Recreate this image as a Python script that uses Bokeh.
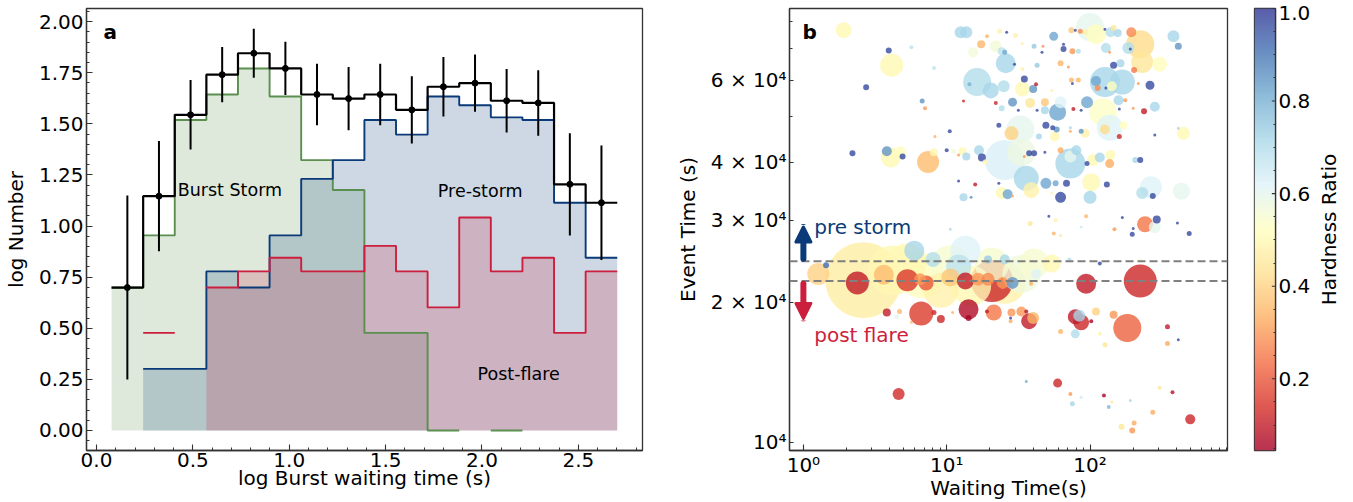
import math
import numpy as np
from bokeh.plotting import figure
from bokeh.layouts import row
from bokeh.models import (Range1d, FixedTicker, Span, Label, Arrow, NormalHead,
                          LinearColorMapper, ColumnDataSource, PrintfTickFormatter)
from bokeh.embed import file_html
from bokeh.resources import INLINE

FONT = "DejaVu Sans"

# ---------------- Panel a: histogram data ----------------
bin_edges = [0.078, 0.242, 0.406, 0.570, 0.734, 0.898, 1.062, 1.226, 1.390,
             1.554, 1.718, 1.882, 2.046, 2.210, 2.374, 2.538, 2.702]
total_counts = [5, 14, 35, 55, 70, 59, 44, 42, 44, 37, 48, 50, 41, 40, 16, 13]
burst_storm_counts = [5, 9, 33, 44, 59, 43, 21, 15, 3, 3, 1, 0, 1, 0, 0, 0]
pre_storm_counts = [0, 2, 2, 6, 5, 9, 17, 21, 33, 28, 43, 39, 34, 33, 13, 7]
post_flare_counts = [0, 3, 0, 5, 6, 7, 6, 6, 8, 6, 4, 11, 6, 7, 3, 6]
total_err = [0.45, 0.27, 0.17, 0.135, 0.12, 0.13, 0.15, 0.155, 0.15, 0.165,
             0.145, 0.14, 0.155, 0.16, 0.25, 0.28]

x_ticks_a = [0.0, 0.5, 1.0, 1.5, 2.0, 2.5]
y_ticks_a = [0.0, 0.25, 0.5, 0.75, 1.0, 1.25, 1.5, 1.75, 2.0]

# ---------------- Panel b: scatter data ----------------
wait_s = [1.91, 3.94, 4.13, 2.74, 5.67, 8.15, 6.74, 7.06, 8.28, 10.5,
          2.20, 3.82, 4.07, 4.76, 4.92, 7.41, 8.15, 10.0, 11.2, 12.1,
          12.9, 13.7, 12.1, 15.8, 13.1, 14.8, 12.5, 13.7, 17.4, 15.3,
          16.3, 14.4, 13.1, 17.6, 16.8, 19.1, 23.4, 26.2, 30.2, 22.0,
          24.2, 25.4, 33.7, 40.7, 46.9, 46.2, 55.8, 65.3, 65.3, 75.3,
          82.8, 74.1, 78.9, 85.5, 92.4, 100, 110, 127, 146, 139,
          156, 194, 224, 185, 191, 382, 413, 129, 137, 146,
          163, 231, 306, 203, 25.8, 29.7, 62.3, 70.6, 42.7, 33.7,
          20.3, 25.0, 34.8, 33.7, 42.0, 40.1, 54.1, 74.1, 75.3, 82.8,
          127, 168, 110, 113, 129, 142, 262, 217, 22.0, 28.8,
          24.2, 31.6, 38.2, 48.4, 48.4, 42.7, 59.4, 62.3, 76.5, 86.7,
          95.3, 123, 158, 160, 176, 200, 238, 283, 137, 127,
          171, 160, 283, 448, 413, 32.6, 28.3, 23.1, 44.0, 49.2,
          54.9, 58.5, 56.7, 72.9, 72.9, 86.7, 92.4, 25.4, 33.2, 18.5,
          37.6, 40.7, 34.8, 48.4, 72.9, 62.3, 72.9, 80.2, 95.3, 105,
          117, 139, 137, 207, 224, 23.1, 24.2, 26.6, 28.8, 35.9,
          38.8, 49.2, 54.1, 57.5, 68.5, 62.3, 102, 131, 100, 266,
          231, 274, 434, 51.6, 57.5, 93.9, 38.2, 55.8, 62.3, 86.7,
          148, 168, 200, 197, 242, 283, 292, 407, 492, 3.21,
          10.6, 2.62, 4.20, 6.64, 10.6, 14.8, 20.7, 25.4, 33.2, 54.1,
          71.8, 117, 224, 2.38, 3.64, 5.32, 7.18, 6.53, 10.6, 13.5,
          16.6, 19.4, 20.7, 24.6, 28.8, 1.27, 1.44, 5.94, 8.02, 19.4,
          12.1, 25.4, 38.8, 42.0, 93.9, 224, 14.2, 14.2, 19.1, 21.3,
          28.3, 27.9, 27.9, 33.2, 35.9, 40.1, 37.6, 78.9, 86.7, 84.1,
          102, 110, 146, 182, 62.3, 78.9, 117, 127, 347, 413,
          347, 35.9, 59.4, 72.9, 75.3, 125, 135, 191, 306, 376,
          274, 166, 203, 197, 500, 3.82, 4.69, 4.47, 5.67, 6.64,
          8.15, 9.10, 11.0, 4.62, 142, 86.7, 5.24, 9.10, 40.7, 13.5]
event_s = [76800, 69500, 64600, 57900, 70600, 63700, 54100, 52200, 45400, 46600,
           41800, 42200, 40900, 42000, 41100, 40000, 42000, 42400, 42200, 41400,
           42200, 41100, 36400, 35800, 33600, 33600, 76000, 76000, 71600, 68900,
           59400, 58800, 54100, 40900, 42400, 74500, 76400, 76000, 74800, 70900,
           69200, 68900, 71900, 70900, 70900, 68900, 74500, 71600, 70000, 69200,
           69200, 76800, 76800, 76400, 76000, 78000, 75300, 77200, 77600, 76000,
           75700, 76000, 71600, 70300, 70000, 74500, 70900, 70300, 68900, 64600,
           65200, 65600, 64900, 63100, 65200, 64900, 65200, 64000, 64600, 63400,
           57000, 58200, 60300, 57400, 58800, 57400, 57000, 60000, 59000, 60000,
           59400, 59400, 59700, 57700, 57700, 58200, 58500, 59000, 53600, 53800,
           52200, 51700, 53600, 53800, 51700, 51700, 51200, 53800, 52000, 51700,
           53800, 51200, 54300, 52000, 54300, 52200, 51400, 52600, 47400, 47000,
           48000, 45400, 45700, 46100, 47300, 47000, 46100, 48000, 45400, 48000,
           47400, 47000, 45400, 47400, 46600, 46600, 46100, 40400, 42000, 40000,
           41800, 41800, 41100, 42000, 39700, 42400, 41100, 42400, 39700, 40400,
           40900, 41400, 39700, 40400, 40400, 36000, 34300, 34100, 33800, 36900,
           34800, 36000, 34300, 36000, 36000, 33600, 36200, 35800, 33600, 35300,
           34300, 33800, 34600, 30600, 30000, 30600, 29500, 28100, 27800, 29000,
           28700, 30400, 28800, 28000, 29400, 29000, 30100, 29600, 28100, 28700,
           28700, 22300, 23400, 22800, 24000, 21700, 24100, 22000, 23000, 24200,
           24700, 24200, 24600, 22000, 22900, 22300, 22000, 22400, 22600, 22200,
           22400, 22400, 22200, 22000, 22000, 23000, 24000, 25800, 24700, 24700,
           23800, 24700, 21900, 23000, 21900, 22200, 19300, 18500, 19100, 19000,
           19000, 18200, 18500, 19100, 19100, 18500, 18200, 18600, 18100, 18700,
           18200, 19100, 18800, 17600, 17300, 17100, 17100, 16200, 17700, 16600,
           16300, 13500, 13400, 12700, 12100, 12600, 11900, 12300, 13100, 12800,
           11600, 10800, 11000, 10600, 11200, 19000, 19100, 18600, 18100, 18900,
           19000, 18400, 19000, 12700, 12200, 12500, 24200, 21200, 24200, 25800]
size_px = [16, 6, 23, 6, 4, 4, 5, 4, 3, 4,
           6, 10, 20, 12, 6, 22, 8, 4, 5, 3,
           8, 8, 3, 4, 8, 3, 12, 12, 8, 10,
           28, 4, 3, 8, 10, 4, 5, 3, 5, 12,
           8, 5, 3, 5, 3, 3, 9, 3, 6, 6,
           5, 6, 3, 5, 6, 28, 20, 3, 6, 10,
           8, 10, 28, 12, 3, 12, 7, 10, 3, 7,
           8, 22, 15, 6, 20, 3, 6, 3, 5, 4,
           16, 12, 7, 15, 4, 8, 3, 5, 3, 5,
           30, 25, 10, 6, 3, 10, 9, 3, 4, 9,
           6, 3, 10, 8, 8, 3, 17, 12, 4, 3,
           12, 28, 10, 3, 4, 3, 6, 10, 26, 10,
           8, 5, 3, 13, 3, 28, 14, 5, 6, 7,
           5, 6, 10, 3, 3, 5, 9, 40, 28, 5,
           6, 6, 3, 3, 30, 6, 12, 10, 5, 12,
           10, 10, 9, 6, 6, 3, 12, 10, 3, 25,
           16, 11, 3, 6, 7, 11, 18, 6, 13, 22,
           12, 6, 17, 3, 4, 4, 5, 4, 3, 3,
           4, 3, 3, 5, 16, 12, 8, 3, 5, 3,
           3, 76, 50, 45, 40, 40, 34, 42, 38, 18,
           4, 4, 3, 23, 20, 22, 15, 12, 18, 17,
           13, 13, 42, 12, 12, 22, 6, 20, 15, 8,
           25, 10, 4, 10, 20, 33, 20, 6, 4, 16,
           8, 4, 3, 10, 4, 12, 16, 15, 16, 12,
           4, 8, 8, 28, 5, 9, 4, 5, 5, 3,
           5, 3, 9, 4, 5, 4, 4, 3, 4, 4,
           5, 6, 5, 6, 10, 8, 5, 5, 3, 24,
           5, 8, 3, 12, 3, 3, 40, 35, 30, 30]
hardness = [0.50, 0.97, 0.50, 0.97, 0.68, 0.68, 0.85, 0.30, 0.33, 0.97,
            0.97, 0.85, 0.50, 0.52, 0.97, 0.36, 0.50, 0.97, 0.56, 0.30,
            0.50, 0.72, 0.97, 0.10, 0.72, 0.85, 0.72, 0.72, 0.35, 0.56,
            0.70, 0.80, 0.12, 0.97, 0.72, 0.35, 0.48, 0.97, 0.48, 0.56,
            0.68, 0.82, 0.48, 0.75, 0.30, 0.97, 0.82, 0.97, 0.97, 0.30,
            0.70, 0.38, 0.97, 0.28, 0.48, 0.60, 0.52, 0.97, 0.45, 0.70,
            0.72, 0.28, 0.42, 0.70, 0.97, 0.72, 0.85, 0.70, 0.30, 0.97,
            0.72, 0.45, 0.52, 0.25, 0.72, 0.97, 0.35, 0.30, 0.75, 0.48,
            0.72, 0.70, 0.97, 0.50, 0.10, 0.85, 0.48, 0.35, 0.97, 0.35,
            0.72, 0.72, 0.82, 0.28, 0.97, 0.52, 0.97, 0.30, 0.12, 0.85,
            0.70, 0.97, 0.45, 0.38, 0.72, 0.97, 0.82, 0.62, 0.10, 0.97,
            0.82, 0.53, 0.72, 0.97, 0.30, 0.30, 0.10, 0.72, 0.62, 0.42,
            0.52, 0.12, 0.97, 0.50, 0.72, 0.60, 0.40, 0.97, 0.72, 0.97,
            0.97, 0.85, 0.50, 0.72, 0.33, 0.85, 0.48, 0.63, 0.58, 0.50,
            0.97, 0.97, 0.30, 0.97, 0.72, 0.33, 0.60, 0.72, 0.97, 0.50,
            0.72, 0.50, 0.33, 0.72, 0.97, 0.97, 0.50, 0.82, 0.33, 0.72,
            0.48, 0.82, 0.48, 0.82, 0.97, 0.97, 0.50, 0.97, 0.72, 0.62,
            0.70, 0.97, 0.60, 0.97, 0.48, 0.35, 0.45, 0.35, 0.45, 0.65,
            0.30, 0.97, 0.97, 0.97, 0.25, 0.60, 0.97, 0.97, 0.97, 0.48,
            0.70, 0.47, 0.50, 0.52, 0.55, 0.50, 0.55, 0.48, 0.57, 0.50,
            0.70, 0.97, 0.50, 0.10, 0.36, 0.15, 0.20, 0.30, 0.38, 0.10,
            0.30, 0.28, 0.12, 0.30, 0.85, 0.40, 0.92, 0.72, 0.70, 0.75,
            0.68, 0.72, 0.33, 0.62, 0.10, 0.12, 0.07, 0.05, 0.10, 0.25,
            0.30, 0.33, 0.97, 0.30, 0.08, 0.35, 0.10, 0.10, 0.12, 0.72,
            0.05, 0.40, 0.30, 0.22, 0.35, 0.70, 0.48, 0.45, 0.10, 0.97,
            0.33, 0.80, 0.12, 0.30, 0.72, 0.05, 0.78, 0.72, 0.45, 0.08,
            0.33, 0.45, 0.33, 0.30, 0.12, 0.10, 0.35, 0.60, 0.35, 0.16,
            0.12, 0.12, 0.35, 0.13, 0.45, 0.65, 0.50, 0.48, 0.55, 0.62]

boundary_times = [24500, 22200]
cbar_low, cbar_high = 0.045, 1.0
cbar_ticks = [0.2, 0.4, 0.6, 0.8, 1.0]

# ---------------- colours ----------------
GREEN = "#5a8f4f"
BLUE = "#0a3a78"
RED = "#cc1f3e"
RDYLBU = ['#a50026', '#d73027', '#f46d43', '#fdae61', '#fee090', '#ffffbf',
          '#e0f3f8', '#abd9e9', '#74add1', '#4575b4', '#313695']
PT_ALPHA = 0.8
AX = "#333333"


def interp_palette(pal, n):
    rgb = [tuple(int(c[i:i + 2], 16) for i in (1, 3, 5)) for c in pal]
    out = []
    for k in range(n):
        t = k / (n - 1) * (len(rgb) - 1)
        j = min(int(t), len(rgb) - 2)
        f = t - j
        c = tuple(int(round(rgb[j][m] * (1 - f) + rgb[j + 1][m] * f)) for m in range(3))
        out.append('#%02x%02x%02x' % c)
    return out


def blend_white(pal, a):
    out = []
    for c in pal:
        r, g, b = (int(c[i:i + 2], 16) for i in (1, 3, 5))
        out.append('#%02x%02x%02x' % tuple(int(round(255 * (1 - a) + v * a)) for v in (r, g, b)))
    return out


PAL = interp_palette(RDYLBU, 256)


def style(p, ylabel_standoff=8):
    p.background_fill_color = "white"
    p.border_fill_color = "white"
    p.outline_line_color = AX
    p.outline_line_width = 1.3
    p.xgrid.visible = False
    p.ygrid.visible = False
    for ax in p.axis:
        ax.axis_line_color = AX
        ax.axis_line_width = 1.3
        ax.major_tick_in = 6
        ax.major_tick_out = 0
        ax.minor_tick_in = 3
        ax.minor_tick_out = 0
        ax.major_tick_line_color = AX
        ax.minor_tick_line_color = AX
        ax.major_tick_line_width = 1.1
        ax.minor_tick_line_width = 1.0
        ax.major_label_text_font = FONT
        ax.major_label_text_font_size = "20px"
        ax.major_label_text_color = "black"
        ax.major_label_text_line_height = 1.0
        ax.axis_label_text_font = FONT
        ax.axis_label_text_font_size = "20px"
        ax.axis_label_text_font_style = "normal"
        ax.axis_label_text_color = "black"
        ax.axis_label_text_line_height = 1.0
        # the title is tucked into the empty lower part of the tick-label box
        ax.major_label_standoff = 2
        ax.axis_label_standoff = -4
    for ax in p.yaxis:
        ax.major_label_standoff = 3
        ax.axis_label_standoff = ylabel_standoff


def logvals(counts):
    return [math.log10(c) if c > 0 else float('nan') for c in counts]


def step_path(edges, vals):
    xs, ys = [], []
    prev = False
    for i, v in enumerate(vals):
        if math.isnan(v):
            if prev:
                xs.append(float('nan'))
                ys.append(float('nan'))
            prev = False
            continue
        xs += [edges[i], edges[i + 1]]
        ys += [v, v]
        prev = True
    return xs, ys


def fill_polys(edges, vals, min_len=1):
    pxs, pys = [], []
    run = []
    for i in range(len(vals) + 1):
        if i < len(vals) and not math.isnan(vals[i]):
            run.append(i)
            continue
        if len(run) >= min_len:
            xs = [edges[run[0]]]
            ys = [0.0]
            for j in run:
                xs += [edges[j], edges[j + 1]]
                ys += [vals[j], vals[j]]
            xs.append(edges[run[-1] + 1])
            ys.append(0.0)
            pxs.append(xs)
            pys.append(ys)
        run = []
    return pxs, pys


# ================= Panel a =================
pa = figure(width=672, height=502, x_range=Range1d(-0.052, 2.833), y_range=Range1d(-0.098, 2.064),
            output_backend="svg", toolbar_location=None,
            min_border_left=84, min_border_right=30, min_border_top=8, min_border_bottom=52,
            x_axis_label="log Burst waiting time (s)", y_axis_label="log Number")
style(pa)
pa.xaxis.ticker = FixedTicker(ticks=x_ticks_a, minor_ticks=[round(0.1 * k, 1) for k in range(0, 29)])
pa.yaxis.ticker = FixedTicker(ticks=y_ticks_a, minor_ticks=[round(0.05 * k, 2) for k in range(-1, 42)])
pa.xaxis.formatter = PrintfTickFormatter(format="%.1f")
pa.yaxis.formatter = PrintfTickFormatter(format="%.2f")

lt = logvals(total_counts)
lg = logvals(burst_storm_counts)
lb = logvals(pre_storm_counts)
lr = logvals(post_flare_counts)

for vals, col, mlen in ((lg, GREEN, 1), (lb, BLUE, 1), (lr, RED, 2)):
    fx, fy = fill_polys(bin_edges, vals, mlen)
    pa.patches(fx, fy, fill_color=col, fill_alpha=0.2, line_color=None)

for vals, col in ((lg, GREEN), (lb, BLUE), (lr, RED)):
    sx, sy = step_path(bin_edges, vals)
    pa.line(sx, sy, line_color=col, line_width=1.9)

sx, sy = step_path(bin_edges, lt)
pa.line(sx, sy, line_color="black", line_width=2.2)

centers = [(bin_edges[i] + bin_edges[i + 1]) / 2 for i in range(len(total_counts))]
pa.segment(x0=centers, y0=[v - e for v, e in zip(lt, total_err)],
           x1=centers, y1=[v + e for v, e in zip(lt, total_err)],
           line_color="black", line_width=2)
pa.scatter(centers, lt, size=6, color="black")

for txt, x, y in (("Burst Storm", 0.421, 1.174), ("Pre-storm", 1.771, 1.171), ("Post-flare", 1.977, 0.274)):
    pa.add_layout(Label(x=x, y=y, text=txt, text_font=FONT, text_font_size="17.5px",
                        text_color="black", text_baseline="alphabetic"))
pa.add_layout(Label(x=0.036, y=1.949, text="a", text_font=FONT, text_font_size="20px",
                    text_font_style="bold", text_color="black", text_baseline="alphabetic"))

# ================= Panel b =================
pb = figure(width=568, height=502, x_axis_type="log", y_axis_type="log",
            x_range=Range1d(0.80, 910), y_range=Range1d(9600, 85500),
            output_backend="svg", toolbar_location=None,
            min_border_left=109, min_border_right=13, min_border_top=8, min_border_bottom=52,
            x_axis_label="Waiting Time(s)", y_axis_label="Event Time (s)")
style(pb)
pb.xaxis.ticker = FixedTicker(ticks=[1, 10, 100],
                              minor_ticks=[m * d for d in (1, 10, 100) for m in range(2, 10)])
pb.xaxis.major_label_overrides = {1: "10\u2070", 10: "10\u00b9", 100: "10\u00b2"}
pb.yaxis.ticker = FixedTicker(ticks=[10000, 20000, 30000, 40000, 60000],
                              minor_ticks=[50000, 70000, 80000])
pb.yaxis.major_label_overrides = {10000: "10\u2074", 20000: "2 \u00d7 10\u2074",
                                  30000: "3 \u00d7 10\u2074", 40000: "4 \u00d7 10\u2074",
                                  60000: "6 \u00d7 10\u2074"}
pb.yaxis.major_tick_in = 4

mapper = LinearColorMapper(palette=PAL, low=cbar_low, high=cbar_high)
order = sorted(range(len(wait_s)), key=lambda i: -size_px[i])
src = ColumnDataSource(dict(
    wait=[wait_s[i] for i in order],
    event=[event_s[i] for i in order],
    size=[size_px[i] for i in order],
    hr=[hardness[i] for i in order],
))
pb.scatter(x="wait", y="event", size="size", source=src,
           fill_color={"field": "hr", "transform": mapper}, fill_alpha=PT_ALPHA, line_color=None)

for t in boundary_times:
    pb.add_layout(Span(location=t, dimension="width", line_color="#808080",
                       line_width=2, line_dash="8 4"))

pb.add_layout(Arrow(end=NormalHead(size=15, fill_color=BLUE, line_color=BLUE, line_width=3,
                                   line_join="round"),
                    x_start=1.0, y_start=24800, x_end=1.0, y_end=29000,
                    line_color=BLUE, line_width=6, line_cap="round"))
pb.add_layout(Arrow(end=NormalHead(size=15, fill_color=RED, line_color=RED, line_width=3,
                                   line_join="round"),
                    x_start=1.0, y_start=21900, x_end=1.0, y_end=18450,
                    line_color=RED, line_width=6, line_cap="round"))
pb.add_layout(Label(x=1.19, y=29000, text="pre storm", text_font=FONT, text_font_size="20px",
                    text_color=BLUE, text_baseline="alphabetic"))
pb.add_layout(Label(x=1.19, y=16960, text="post flare", text_font=FONT, text_font_size="20px",
                    text_color=RED, text_baseline="alphabetic"))
pb.add_layout(Label(x=0.984, y=76200, text="b", text_font=FONT, text_font_size="20px",
                    text_font_style="bold", text_color="black", text_baseline="alphabetic"))

# ================= Colour bar =================
pc = figure(width=73, height=502, x_range=Range1d(0, 1), y_range=Range1d(cbar_low, cbar_high),
            output_backend="svg", toolbar_location=None, x_axis_location=None,
            y_axis_location="right",
            min_border_left=14, min_border_right=36, min_border_top=8, min_border_bottom=52)
style(pc)
# label of the top tick is nudged just below the bar end so it stays on the page
label_ticks = [0.2, 0.4, 0.6, 0.8, 0.99]
pc.yaxis.ticker = FixedTicker(ticks=label_ticks,
                              minor_ticks=[round(0.05 * k, 2) for k in range(1, 20) if k % 4 != 0])
pc.yaxis.formatter = PrintfTickFormatter(format="%.1f")
pc.yaxis.major_tick_in = 0
pc.yaxis.minor_tick_in = 2
cbar_mapper = LinearColorMapper(palette=blend_white(PAL, PT_ALPHA), low=cbar_low, high=cbar_high)
grad = np.linspace(cbar_low, cbar_high, 256).reshape(256, 1)
pc.image(image=[grad], x=0, y=cbar_low, dw=1, dh=cbar_high - cbar_low, color_mapper=cbar_mapper)
pc.segment(x0=[1 - 4 / 23] * len(cbar_ticks), x1=[1.0] * len(cbar_ticks), y0=cbar_ticks, y1=cbar_ticks,
           line_color=AX, line_width=1.1)

# narrow strip carrying the colour-bar title (left-axis label reads bottom-to-top)
pd = figure(width=40, height=502, x_range=Range1d(0, 1), y_range=Range1d(0, 1),
            output_backend="svg", toolbar_location=None, x_axis_location=None,
            y_axis_label="Hardness Ratio",
            min_border_left=26, min_border_right=0, min_border_top=8, min_border_bottom=52)
pd.outline_line_color = None
pd.xgrid.visible = False
pd.ygrid.visible = False
pd.background_fill_color = "white"
pd.border_fill_color = "white"
for ax in pd.yaxis:
    ax.ticker = FixedTicker(ticks=[], minor_ticks=[])
    ax.axis_line_color = None
    ax.major_tick_line_color = None
    ax.minor_tick_line_color = None
    ax.major_tick_in = 0
    ax.major_tick_out = 0
    ax.minor_tick_in = 0
    ax.minor_tick_out = 0
    ax.major_label_standoff = 0
    ax.axis_label_standoff = 0
    ax.major_label_text_font_size = "1px"
    ax.axis_label_text_font = FONT
    ax.axis_label_text_font_size = "20px"
    ax.axis_label_text_font_style = "normal"
    ax.axis_label_text_color = "black"
    ax.axis_label_text_line_height = 1.0

layout = row(pa, pb, pc, pd)
open("out.html", "w").write(file_html(layout, INLINE))
